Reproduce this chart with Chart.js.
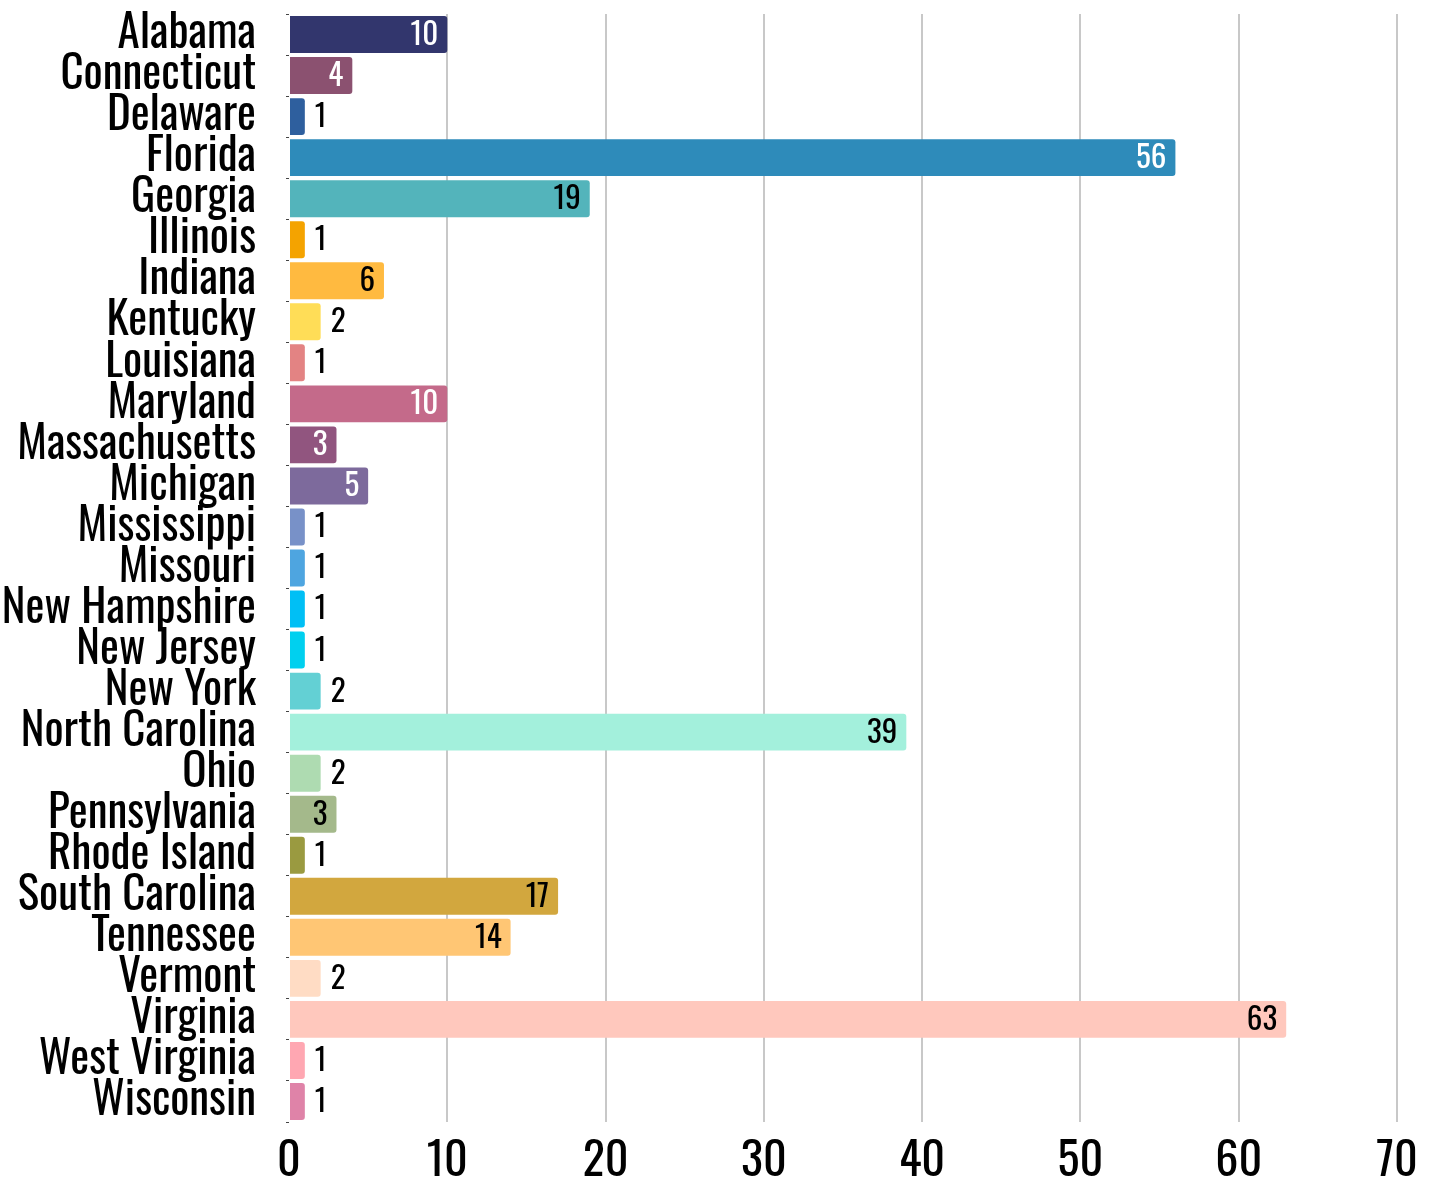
<!DOCTYPE html>
<html>
<head>
<meta charset="utf-8">
<script src="https://cdn.jsdelivr.net/npm/chart.js@4/dist/chart.umd.min.js"></script>
<style>
  html, body { margin: 0; padding: 0; background: #ffffff; }
  #wrap { width: 1436px; height: 1188px; position: relative; }
</style>
</head>
<body>
<div id="wrap"><canvas id="c"></canvas></div>
<script>
const states = ["Alabama","Connecticut","Delaware","Florida","Georgia","Illinois","Indiana","Kentucky","Louisiana","Maryland","Massachusetts","Michigan","Mississippi","Missouri","New Hampshire","New Jersey","New York","North Carolina","Ohio","Pennsylvania","Rhode Island","South Carolina","Tennessee","Vermont","Virginia","West Virginia","Wisconsin"];
const counts = [10,4,1,56,19,1,6,2,1,10,3,5,1,1,1,1,2,39,2,3,1,17,14,2,63,1,1];
const barColors = ["#32366d","#8b5170","#2e5f9e","#2e8bba","#53b4bb","#f4a300","#ffba40","#ffdd57","#e38383","#c46a8a","#91557f","#7d6a9c","#7891c8","#4ea5e0","#00bff5","#00d0ef","#63d0d4","#a3f0dc","#aedbb1","#a4b98b","#9a9a40","#d2a73e","#ffc674","#ffdcc4","#ffc8bd","#ffa7b2","#df83a8"];
const labelColors = ["#ffffff","#ffffff","#000000","#ffffff","#000000","#000000","#000000","#000000","#000000","#ffffff","#ffffff","#ffffff","#000000","#000000","#000000","#000000","#000000","#000000","#000000","#000000","#000000","#000000","#000000","#000000","#000000","#000000","#000000"];
const xTicks = [0,10,20,30,40,50,60,70];

const FONT = "'Oswald','Roboto Condensed','Liberation Sans Narrow','DejaVu Sans Condensed',sans-serif";

const valueLabels = {
  id: 'valueLabels',
  afterDatasetsDraw(chart) {
    const ctx = chart.ctx;
    const meta = chart.getDatasetMeta(0);
    ctx.save();
    ctx.font = "31px " + FONT;
    ctx.textBaseline = 'middle';
    meta.data.forEach((bar, i) => {
      const v = counts[i];
      const w = bar.x - bar.base;
      const txt = String(v);
      const tw = ctx.measureText(txt).width;
      if (w > tw + 18) {
        ctx.textAlign = 'right';
        ctx.fillStyle = labelColors[i];
        ctx.fillText(txt, bar.x - 9, bar.y + 1);
      } else {
        ctx.textAlign = 'left';
        ctx.fillStyle = '#000000';
        ctx.fillText(txt, bar.x + 10, bar.y + 1);
      }
    });
    ctx.restore();
  }
};

new Chart(document.getElementById('c'), {
  type: 'bar',
  data: {
    labels: states,
    datasets: [{
      data: counts,
      backgroundColor: barColors,
      borderRadius: 3,
      borderSkipped: 'start',
      barPercentage: 0.9,
      categoryPercentage: 1.0
    }]
  },
  options: {
    indexAxis: 'y',
    responsive: true,
    maintainAspectRatio: false,
    animation: false,
    layout: { padding: { top: 14, right: 39, left: 0, bottom: 0 } },
    plugins: { legend: { display: false }, tooltip: { enabled: false } },
    scales: {
      x: {
        min: 0, max: 70,
        afterBuildTicks(scale) { scale.ticks = xTicks.map(v => ({ value: v })); },
        afterFit(scale) { scale.height = 66; scale.paddingTop = 0; scale.paddingBottom = 0; },
        grid: {
          color: ctx => (ctx.tick && ctx.tick.value === 0) ? 'rgba(0,0,0,0)' : '#c8c8c8',
          lineWidth: 2,
          drawTicks: false
        },
        border: { display: false },
        ticks: {
          color: '#000000',
          font: { family: FONT, size: 46, lineHeight: 1.2 },
          padding: 12,
          maxRotation: 0
        }
      },
      y: {
        afterFit(scale) { scale.width = 289; scale.paddingTop = 0; scale.paddingBottom = 0; },
        grid: { drawOnChartArea: false, tickLength: 3, color: '#444444', lineWidth: 1, offset: true },
        border: { display: false },
        ticks: {
          color: '#000000',
          font: { family: FONT, size: 45, lineHeight: 1 },
          padding: 30,
          autoSkip: false
        }
      }
    }
  },
  plugins: [valueLabels]
});
</script>
</body>
</html>
